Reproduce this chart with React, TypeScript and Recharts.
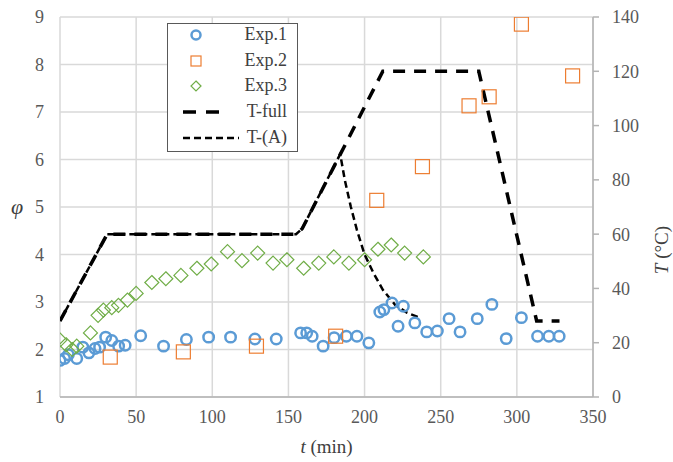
import { ComposedChart, Line, Scatter, XAxis, YAxis, CartesianGrid } from 'recharts';

const FONT = '"Liberation Serif", "Times New Roman", serif';

// time axis ticks (min)
const tTicks = [0, 50, 100, 150, 200, 250, 300, 350];
const phiTicks = [1, 2, 3, 4, 5, 6, 7, 8, 9];
const tempTicks = [0, 20, 40, 60, 80, 100, 120, 140];

// Exp.1
const exp1T = [0, 3, 5.5, 11, 15, 19, 23, 26, 30, 34, 38.5, 42.8, 53, 68, 83, 97.6, 112, 128, 142, 158, 162, 165.6, 172.8, 180, 188, 195, 202.8, 210, 212.7, 218, 222, 225.5, 233, 240.8, 247.8, 255.5, 262.7, 274, 283.6, 293, 303, 313.6, 321, 327.8];
const exp1Phi = [1.77, 1.81, 1.89, 1.81, 2.05, 1.93, 2.02, 2.05, 2.26, 2.19, 2.07, 2.09, 2.29, 2.07, 2.21, 2.26, 2.26, 2.22, 2.22, 2.35, 2.35, 2.28, 2.07, 2.25, 2.28, 2.28, 2.14, 2.79, 2.84, 2.98, 2.49, 2.91, 2.56, 2.37, 2.39, 2.65, 2.37, 2.65, 2.95, 2.23, 2.67, 2.28, 2.28, 2.28];

// Exp.2
const exp2T = [33, 81, 129, 181, 208, 238, 268.6, 281.8, 303, 336.6];
const exp2Phi = [1.84, 1.95, 2.07, 2.28, 5.14, 5.85, 7.13, 7.32, 8.85, 7.76];

// Exp.3
const exp3T = [0, 4, 8, 11, 20, 25, 28.5, 34, 38.4, 44.3, 50, 60.3, 69.5, 79.4, 89.9, 99.3, 110, 119.5, 129.8, 139.9, 149, 160, 169.9, 179.8, 189.7, 200, 208.8, 217.5, 226.3, 238.6];
const exp3Phi = [2.2, 2.1, 2.0, 2.07, 2.35, 2.72, 2.83, 2.88, 2.93, 3.04, 3.18, 3.41, 3.49, 3.56, 3.71, 3.8, 4.06, 3.87, 4.03, 3.82, 3.89, 3.71, 3.82, 3.95, 3.82, 3.89, 4.11, 4.2, 4.03, 3.95];

// temperature profiles (°C)
const fullT = [0, 31, 155, 159, 212, 275, 313, 328];
const fullTemp = [28, 60, 60, 62, 120, 120, 28, 28];
const aT = [0, 31, 155, 159, 184, 187, 191, 195, 200, 206, 212, 220, 228, 235];
const aTemp = [28, 60, 60, 62, 89.5, 80, 70, 61.5, 52.5, 45.5, 39.5, 34, 31, 29.5];

const zip = (ts: number[], ys: number[], key: string) => ts.map((t, i) => ({ t, [key]: ys[i] }));

const exp1 = zip(exp1T, exp1Phi, 'phi');
const exp2 = zip(exp2T, exp2Phi, 'phi');
const exp3 = zip(exp3T, exp3Phi, 'phi');
const full = zip(fullT, fullTemp, 'T');
const partA = zip(aT, aTemp, 'T');

const BLUE = '#5B9BD5';
const ORANGE = '#ED7D31';
const GREEN = '#70AD47';
const AXIS = '#b3b3b3';

const CircleMark = (p: any) => <circle cx={p.cx} cy={p.cy} r={5.2} fill="none" stroke={BLUE} strokeWidth={2.5} />;
const SquareMark = (p: any) => <rect x={p.cx - 7} y={p.cy - 7} width={14} height={14} fill="none" stroke={ORANGE} strokeWidth={1.2} />;
const DiamondMark = (p: any) => (
  <path d={`M${p.cx},${p.cy - 7}L${p.cx + 7},${p.cy}L${p.cx},${p.cy + 7}L${p.cx - 7},${p.cy}Z`} fill="none" stroke={GREEN} strokeWidth={1.2} />
);

const tickStyle = { fontSize: 18, fill: '#595959', fontFamily: FONT };

function LegendBox() {
  const rows = [
    { label: 'Exp.1', mark: <circle cx={28} cy={10} r={4.5} fill="none" stroke={BLUE} strokeWidth={2.5} /> },
    { label: 'Exp.2', mark: <rect x={23} y={5} width={10} height={10} fill="none" stroke={ORANGE} strokeWidth={1.2} /> },
    { label: 'Exp.3', mark: <path d="M28,5L33,10L28,15L23,10Z" fill="none" stroke={GREEN} strokeWidth={1.2} /> },
    { label: 'T-full', mark: <line x1={15} y1={10} x2={56} y2={10} stroke="#000" strokeWidth={3.5} strokeDasharray="13 10" /> },
    { label: 'T-(A)', mark: <line x1={15} y1={10} x2={71} y2={10} stroke="#000" strokeWidth={2.5} strokeDasharray="7 4" /> },
  ];
  return (
    <div style={{ position: 'absolute', left: 167, top: 23, width: 129, height: 127, border: '1.5px solid #595959', background: '#fff' }}>
      {rows.map((r, i) => (
        <div key={r.label} style={{ position: 'absolute', left: 0, top: 1 + i * 25.7, width: 129, height: 20 }}>
          <svg width={80} height={20} style={{ position: 'absolute', left: 0, top: 0 }}>{r.mark}</svg>
          <span style={{ position: 'absolute', right: 10, top: -2, fontSize: 18, color: '#404040', fontFamily: FONT, lineHeight: '22px' }}>{r.label}</span>
        </div>
      ))}
    </div>
  );
}

export default function App() {
  return (
    <div style={{ position: 'absolute', left: 0, top: 0, width: 673, height: 462, background: '#fff', fontFamily: FONT }}>
      <style>{`.recharts-text, .recharts-cartesian-axis-tick-value { font-family: ${FONT}; }`}</style>
      <ComposedChart width={673} height={462} margin={{ top: 17, right: 20, bottom: 35, left: 5 }} style={{ fontFamily: FONT }}>
        <CartesianGrid yAxisId="phi" stroke="#d9d9d9" strokeWidth={1.5} />
        <XAxis
          dataKey="t"
          type="number"
          domain={[0, 350]}
          ticks={tTicks}
          allowDataOverflow
          height={30}
          axisLine={{ stroke: AXIS, strokeWidth: 1.5 }}
          tickLine={false}
          tickSize={0}
          tickMargin={13}
          tick={tickStyle}
        />
        <YAxis
          yAxisId="phi"
          orientation="left"
          width={55}
          domain={[1, 9]}
          ticks={phiTicks}
          allowDataOverflow
          axisLine={false}
          tickLine={false}
          tickSize={0}
          tickMargin={16}
          tick={tickStyle}
        />
        <YAxis
          yAxisId="T"
          orientation="right"
          width={60}
          domain={[0, 140]}
          ticks={tempTicks}
          allowDataOverflow
          axisLine={{ stroke: AXIS, strokeWidth: 1.5 }}
          tickLine={{ stroke: AXIS, strokeWidth: 1.5 }}
          tickSize={6}
          tickMargin={13}
          tick={tickStyle}
        />
        <Scatter name="Exp.1" data={exp1} dataKey="phi" yAxisId="phi" shape={CircleMark} isAnimationActive={false} />
        <Scatter name="Exp.2" data={exp2} dataKey="phi" yAxisId="phi" shape={SquareMark} isAnimationActive={false} />
        <Scatter name="Exp.3" data={exp3} dataKey="phi" yAxisId="phi" shape={DiamondMark} isAnimationActive={false} />
        <Line name="T-full" data={full} dataKey="T" yAxisId="T" type="linear" stroke="#000" strokeWidth={3.5} strokeDasharray="12 9" dot={false} activeDot={false} isAnimationActive={false} />
        <Line name="T-(A)" data={partA} dataKey="T" yAxisId="T" type="linear" stroke="#000" strokeWidth={2.5} strokeDasharray="7 4" dot={false} activeDot={false} isAnimationActive={false} />
      </ComposedChart>
      <LegendBox />
      <div style={{ position: 'absolute', left: 11, top: 194, fontSize: 22, fontStyle: 'italic', color: '#404040' }}>φ</div>
      <div style={{ position: 'absolute', left: 0, width: 653, top: 436, textAlign: 'center', fontSize: 19, color: '#404040' }}>
        <i>t</i> (min)
      </div>
      <div style={{ position: 'absolute', left: 662, top: 250, fontSize: 19, color: '#404040', transform: 'translate(-50%, -50%) rotate(-90deg)', whiteSpace: 'nowrap' }}>
        <i>T</i> (°C)
      </div>
    </div>
  );
}
